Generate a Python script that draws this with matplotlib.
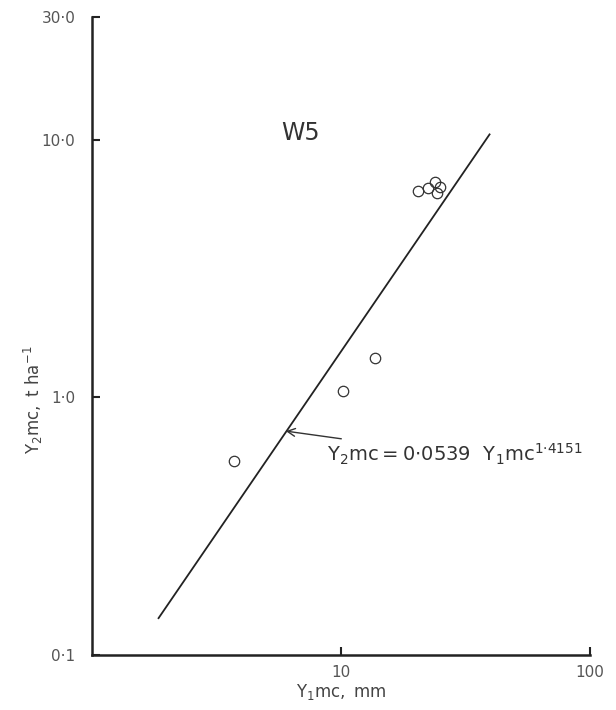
import numpy as np
import matplotlib.pyplot as plt

y1_obs = [3.72, 10.2, 13.7, 20.4, 22.4, 23.9, 25.0, 24.3]
y2_obs = [0.567, 1.06, 1.42, 6.34, 6.51, 6.87, 6.57, 6.22]

# Fitted line, end points as drawn
fit_x = [1.85, 39.5]
fit_y = [0.139, 10.5]

xticks = [10, 100]
xticklabels = ['10', '100']
yticks = [0.1, 1.0, 10.0, 30.0]
yticklabels = ['0·1', '1·0', '10·0', '30·0']

fig = plt.figure(figsize=(6.16, 7.10), dpi=100)
ax = fig.add_axes([0.1494, 0.0775, 0.8084, 0.8986])

ax.plot(fit_x, fit_y, color='#222222', lw=1.3)
ax.plot(y1_obs, y2_obs, 'o', mfc='none', mec='#333333', ms=7.5, mew=0.9)

ax.set_xscale('log')
ax.set_yscale('log')
ax.set_xlim(1, 100)
ax.set_ylim(0.1, 30)

ax.set_xticks(xticks)
ax.set_xticklabels(xticklabels)
ax.set_yticks(yticks)
ax.set_yticklabels(yticklabels)
ax.minorticks_off()
ax.tick_params(direction='in', length=6, width=1.5, color='#222222',
               labelcolor='#555555', labelsize=11)
ax.tick_params(axis='x', pad=7)
ax.tick_params(axis='y', pad=12)

for s in ['top', 'right']:
    ax.spines[s].set_visible(False)
for s in ['left', 'bottom']:
    ax.spines[s].set_linewidth(1.8)
    ax.spines[s].set_color('#222222')

ax.set_xlabel(r'$\mathregular{Y_1 mc,\ mm}$', fontsize=12, color='#444444', labelpad=2)
ax.set_ylabel(r'$\mathregular{Y_2 mc,\ t\ ha^{-1}}$', fontsize=12, color='#444444')
ax.yaxis.set_label_coords(-0.095, 0.40)

ax.text(6.9, 10.6, 'W5', fontsize=17, color='#333333', ha='center', va='center')

ax.annotate(r'$\mathregular{Y_2 mc = 0{\cdot}0539\ \ Y_1 mc^{1{\cdot}4151}}$',
            xy=(6.0, 0.74), xytext=(8.8, 0.60),
            fontsize=14, color='#333333', va='center', ha='left',
            arrowprops=dict(arrowstyle='->', color='#333333', lw=1.0,
                            shrinkA=2, shrinkB=0))

fig.savefig('out.png', dpi=100)
